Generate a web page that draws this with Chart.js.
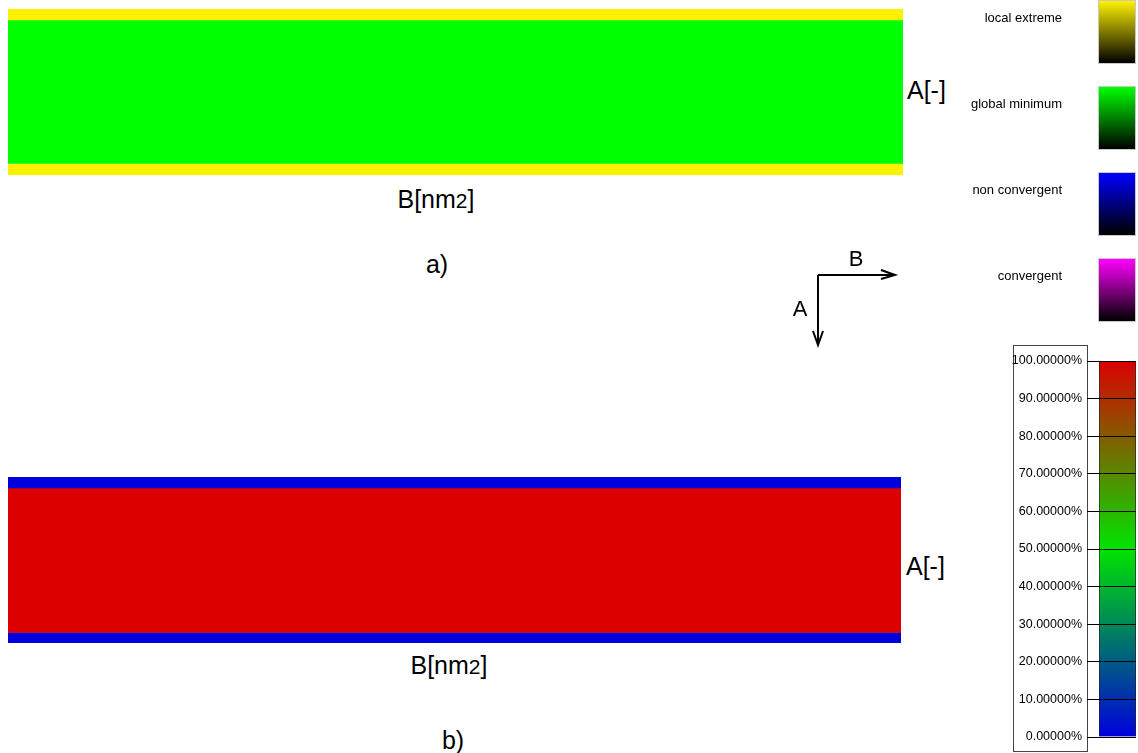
<!DOCTYPE html>
<html>
<head>
<meta charset="utf-8">
<script src="https://cdn.jsdelivr.net/npm/chart.js@4"></script>
<style>
  body { margin: 0; background: #fff; width: 1138px; height: 753px; position: relative; overflow: hidden;
         font-family: "Liberation Sans", Arial, sans-serif; color: #000; }
  .abs { position: absolute; }
  .big { font-size: 25px; white-space: nowrap; line-height: 1; }
  .ctr { transform: translate(-50%, -50%); }
  .mid { transform: translateY(-50%); }
  .sub { font-size: 21px; }
  .legtxt { font-size: 13px; white-space: nowrap; text-align: right; width: 140px; line-height: 1; }
  .swatch { width: 36px; height: 62px; border: 1px solid #c8c8c8; }
  #cbbox { left: 1013px; top: 345px; width: 73px; height: 405px; border: 1px solid #444; }
</style>
</head>
<body>

<div class="abs" style="left:8px;top:9px;width:895px;height:166px"><canvas id="panelA"></canvas></div>
<div class="abs" style="left:8px;top:477px;width:893px;height:166px"><canvas id="panelB"></canvas></div>

<div class="abs big mid" style="left:907px;top:90px">A[-]</div>
<div class="abs big ctr" style="left:436px;top:199px">B[nm<span class="sub">2</span>]</div>
<div class="abs big ctr" style="left:437px;top:264px">a)</div>

<div class="abs big mid" style="left:906px;top:566px">A[-]</div>
<div class="abs big ctr" style="left:449px;top:665px">B[nm<span class="sub">2</span>]</div>
<div class="abs big ctr" style="left:453px;top:740px">b)</div>

<svg class="abs" style="left:0;top:0" width="1138" height="753">
  <g stroke="#000" stroke-width="2" fill="none">
    <path d="M818 275 H895 M881 270 L895 275 L881 279"/>
    <path d="M818 275 V345 M813 331 L818 345 L823 331"/>
  </g>
  <text x="856" y="266" font-size="22" text-anchor="middle" font-family="Liberation Sans, Arial">B</text>
  <text x="800" y="316" font-size="22" text-anchor="middle" font-family="Liberation Sans, Arial">A</text>
</svg>

<div id="legend"></div>

<div id="cbbox" class="abs"></div>
<div class="abs" style="left:1000px;top:345px;width:138px;height:408px"><canvas id="colorbar"></canvas></div>

<script>
// states used in panel a
const stateNames = ['local extreme', 'global minimum', 'non convergent', 'convergent'];
const stateColors = ['#fff200', '#00ff00', '#0000ff', '#ff00ff'];

// panel a: A-extent of each band (top to bottom) and its state
const bandSpansA = [11, 143.5, 11.5];
const bandStatesA = ['local extreme', 'global minimum', 'local extreme'];

// panel b: A-extent of each band and its percentage
const bandSpansB = [11, 144, 10.5];
const bandPercentB = [0, 100, 0];

// colour bar
const colorbarTicks = [0, 10, 20, 30, 40, 50, 60, 70, 80, 90, 100];
const colorStopPct = [0, 50, 100];
const colorStopRgb = [[0, 0, 220], [0, 228, 0], [220, 0, 0]];

function pctColor(p) {
  for (let i = 1; i < colorStopPct.length; i++) {
    if (p <= colorStopPct[i]) {
      const t = (p - colorStopPct[i - 1]) / (colorStopPct[i] - colorStopPct[i - 1]);
      const a = colorStopRgb[i - 1], b = colorStopRgb[i];
      return `rgb(${a.map((v, k) => Math.round(v + (b[k] - v) * t)).join(',')})`;
    }
  }
  return `rgb(${colorStopRgb[colorStopRgb.length - 1].join(',')})`;
}

function bandChart(id, spans, colors) {
  const total = spans.reduce((s, v) => s + v, 0);
  new Chart(document.getElementById(id), {
    type: 'bar',
    data: {
      labels: ['B'],
      datasets: spans.map((v, i) => ({
        data: [v],
        backgroundColor: colors[i],
        borderWidth: 0,
        categoryPercentage: 1,
        barPercentage: 1
      }))
    },
    options: {
      responsive: true,
      maintainAspectRatio: false,
      animation: false,
      layout: { padding: 0 },
      plugins: { legend: { display: false }, tooltip: { enabled: false } },
      scales: {
        x: { stacked: true, display: false },
        y: { stacked: true, display: false, reverse: true, min: 0, max: total }
      }
    }
  });
}

bandChart('panelA', bandSpansA, bandStatesA.map(s => stateColors[stateNames.indexOf(s)]));
bandChart('panelB', bandSpansB, bandPercentB.map(pctColor));

// state legend
const legend = document.getElementById('legend');
stateNames.forEach((name, i) => {
  const top = i * 86;
  const sw = document.createElement('div');
  sw.className = 'abs swatch';
  sw.style.left = '1098px';
  sw.style.top = top + 'px';
  sw.style.background = `linear-gradient(to bottom, ${stateColors[i]}, #000)`;
  legend.appendChild(sw);
  const tx = document.createElement('div');
  tx.className = 'abs legtxt mid';
  tx.style.left = (1062 - 140) + 'px';
  tx.style.top = (top + 17) + 'px';
  tx.textContent = name;
  legend.appendChild(tx);
});

new Chart(document.getElementById('colorbar'), {
  type: 'bar',
  data: {
    labels: ['%'],
    datasets: [{
      data: [[colorbarTicks[0], colorbarTicks[colorbarTicks.length - 1]]],
      backgroundColor: (c) => {
        const ch = c.chart;
        if (!ch.chartArea) return null;
        const y = ch.scales.y;
        const g = ch.ctx.createLinearGradient(0, y.getPixelForValue(0), 0, y.getPixelForValue(100));
        colorStopPct.forEach((p, i) => g.addColorStop(p / 100, `rgb(${colorStopRgb[i].join(',')})`));
        return g;
      },
      borderColor: '#222',
      borderWidth: 1,
      categoryPercentage: 1,
      barPercentage: 1
    }]
  },
  options: {
    responsive: true,
    maintainAspectRatio: false,
    animation: false,
    layout: { padding: { top: 16, bottom: 16, left: 0, right: 2 } },
    plugins: { legend: { display: false }, tooltip: { enabled: false } },
    scales: {
      x: { display: false },
      y: {
        min: 0, max: 100,
        afterFit: (s) => { s.width = 99; },
        afterBuildTicks: (s) => { s.ticks = colorbarTicks.map(v => ({ value: v })); },
        ticks: {
          padding: 5,
          color: '#000',
          font: { family: 'Liberation Sans', size: 12.5 },
          callback: (v) => v.toFixed(5) + '%'
        },
        grid: { color: '#000', lineWidth: 1, tickLength: 12, z: 1 },
        border: { display: false }
      }
    }
  }
});
</script>
</body>
</html>
